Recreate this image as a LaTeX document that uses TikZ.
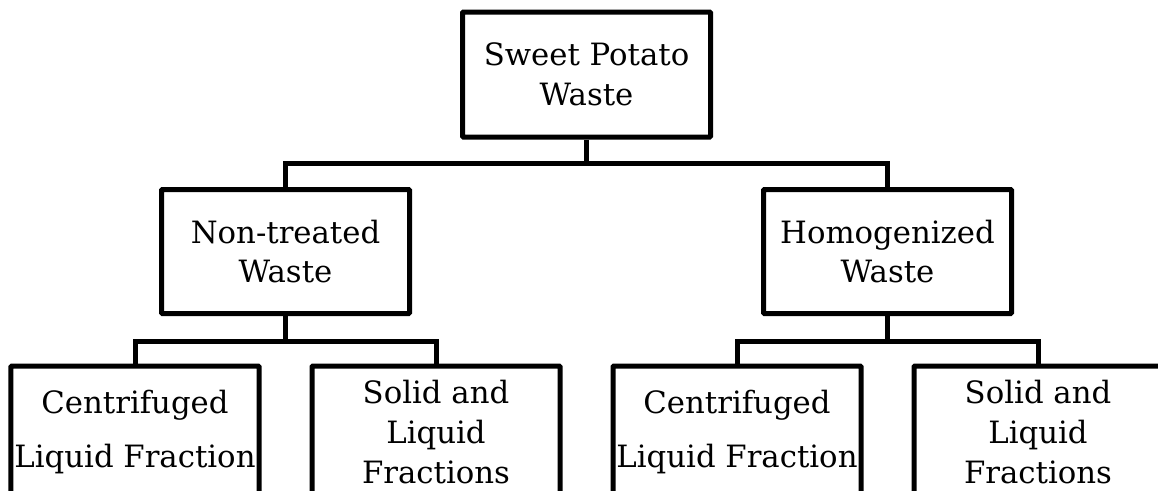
\documentclass[tikz,border=0pt]{standalone}
\usepackage{fontspec}
\setmainfont{DejaVu Serif}
\usepackage{tikz}
\usetikzlibrary{positioning, calc}

\begin{document}
\begin{tikzpicture}[
    stage/.style={rectangle, draw=black, line width=0.1cm, rounded corners=0.5pt, fill=white,
                  minimum width=4.96cm, minimum height=2.48cm, inner sep=0pt, align=center,
                  font=\fontsize{17.5pt}{22.6pt}\selectfont},
    leaf/.style={stage, minimum height=2.64cm},
    link/.style={draw=black, line width=0.1cm}
]
    \useasboundingbox (0,0) rectangle (23.16,-9.8);
    \clip (0,0) rectangle (23.16,-9.8);

    % Connectors
    \coordinate (split0) at (11.73,-3.26);
    \coordinate (split1) at (5.71,-6.82);
    \coordinate (split2) at (17.75,-6.82);

    % Top level
    \node[stage, minimum height=2.5cm] (waste) at (11.73,-1.49) {Sweet Potato\\Waste};

    % Second level
    \node[stage] (raw) at (5.71,-5.03) {Non-treated\\Waste};
    \node[stage] (homog) at (17.75,-5.03) {Homogenized\\Waste};

    % Third level
    \node[leaf] (centA) at (2.70,-8.64) {Centrifuged\\[0.3cm]Liquid Fraction};
    \node[leaf] (fracA) at (8.72,-8.64) {Solid and\\Liquid\\Fractions};
    \node[leaf] (centB) at (14.74,-8.64) {Centrifuged\\[0.3cm]Liquid Fraction};
    \node[leaf] (fracB) at (20.76,-8.64) {Solid and\\Liquid\\Fractions};

    \draw[link] (waste.south) -- (split0);
    \draw[link] (raw.north) |- (split0) -| (homog.north);
    \draw[link] (raw.south) -- (split1);
    \draw[link] (centA.north) |- (split1) -| (fracA.north);
    \draw[link] (homog.south) -- (split2);
    \draw[link] (centB.north) |- (split2) -| (fracB.north);

\end{tikzpicture}
\end{document}
